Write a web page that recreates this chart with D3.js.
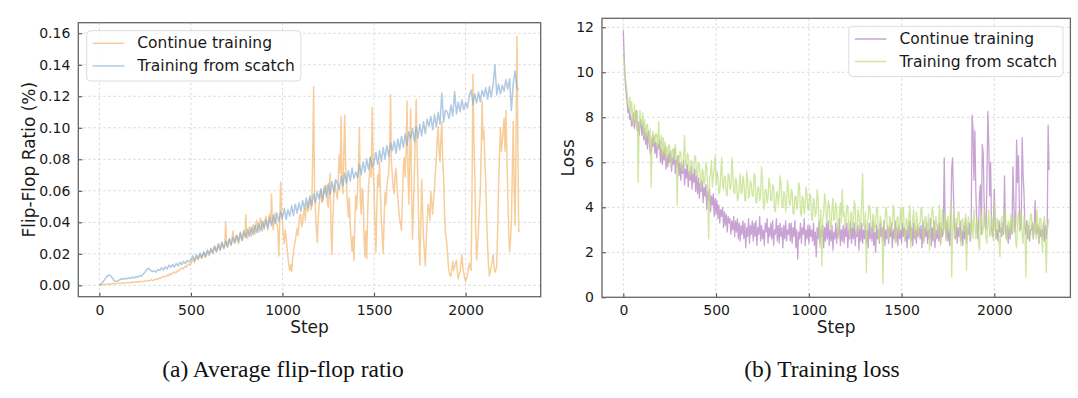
<!DOCTYPE html>
<html><head><meta charset="utf-8">
<script src="https://cdn.jsdelivr.net/npm/d3@7"></script>
<style>body{margin:0;background:#fff}svg text{font-family:"DejaVu Sans",sans-serif}</style>
</head><body><svg id="c" width="1078" height="398"></svg>
<script>
const fineSteps = d3.range(0, 2300, 5);
const coarseSteps = d3.range(0, 2300, 10);
const seriesNames = ["Continue training", "Training from scatch"];
const stepTicks = [0, 500, 1000, 1500, 2000];
const flipTicks = [0, 0.02, 0.04, 0.06, 0.08, 0.10, 0.12, 0.14, 0.16];
const lossTicks = [0, 2, 4, 6, 8, 10, 12];
const captions = ["(a) Average flip-flop ratio", "(b) Training loss"];

const flipContinue = [
0.0,0.0002,0.0003,0.0004,0.0005,0.0005,0.0006,0.0007,0.0008,0.0007,0.0007,0.0009,0.001,0.0009,0.0009,0.0011,0.0011,0.001,0.001,0.0012,
0.0012,0.0013,0.0014,0.0012,0.0012,0.0015,0.0016,0.0014,0.0015,0.0017,0.0017,0.0018,0.0019,0.0016,0.0016,0.0019,0.002,0.0018,0.0021,0.0022,
0.0022,0.0021,0.0019,0.0023,0.0024,0.0025,0.0026,0.0024,0.0023,0.0027,0.0028,0.0029,0.003,0.0027,0.0027,0.0031,0.0033,0.0036,0.0031,0.003,
0.0036,0.0038,0.0042,0.0037,0.0039,0.0045,0.0048,0.0044,0.0052,0.0057,0.0058,0.0053,0.0055,0.0061,0.0064,0.0059,0.007,0.0074,0.0068,0.0072,
0.0078,0.0083,0.0085,0.0079,0.0081,0.009,0.0095,0.0092,0.0102,0.0108,0.011,0.0104,0.0106,0.0118,0.0121,0.0115,0.0128,0.0132,0.0134,0.0128,
0.0142,0.0155,0.0168,0.0152,0.0145,0.0172,0.0182,0.0165,0.0162,0.0185,0.0196,0.0175,0.0172,0.0198,0.0208,0.0184,0.0178,0.0202,0.0215,0.0196,
0.0188,0.0215,0.0232,0.0208,0.0205,0.0238,0.0248,0.0222,0.0215,0.0245,0.0262,0.0232,0.0222,0.0258,0.0275,0.0246,0.0238,0.0268,0.0404,0.0252,
0.0242,0.0278,0.0292,0.0262,0.0258,0.0298,0.0345,0.0282,0.0272,0.0305,0.0318,0.0285,0.0266,0.0312,0.0338,0.0295,0.0285,0.0328,0.0352,0.0308,
0.045,0.0322,0.0298,0.0345,0.0372,0.033,0.0312,0.0362,0.0385,0.0342,0.0325,0.0392,0.0412,0.0355,0.0338,0.0395,0.0428,0.0372,0.0345,0.0402,
0.0372,0.0415,0.0438,0.0382,0.0352,0.0432,0.0452,0.0398,0.058,0.0412,0.0351,0.0428,0.0462,0.0405,0.0388,0.0348,0.0187,0.0402,0.0656,0.0452,
0.0402,0.0315,0.0268,0.0352,0.0305,0.0238,0.0176,0.0125,0.0095,0.0132,0.0088,0.0165,0.0215,0.0252,0.0284,0.0325,0.0362,0.0318,0.0405,0.0445,
0.0452,0.0372,0.0398,0.0465,0.0486,0.0412,0.052,0.0488,0.0468,0.0535,0.0552,0.0478,0.0505,0.0825,0.126,0.0612,0.0482,0.0365,0.027,0.0418,
0.0512,0.0562,0.0604,0.0525,0.0548,0.0612,0.0586,0.0635,0.0632,0.0528,0.0495,0.0622,0.071,0.0352,0.0198,0.0425,0.0562,0.0648,0.0615,0.0575,
0.0548,0.0692,0.083,0.0712,0.107,0.0655,0.0582,0.0845,0.108,0.0752,0.0634,0.0512,0.0434,0.0558,0.0382,0.0285,0.0215,0.0312,0.016,0.0395,
0.0568,0.0482,0.0612,0.0758,0.100,0.0525,0.0452,0.0615,0.0585,0.0312,0.0182,0.0345,0.017,0.0452,0.0625,0.0705,0.0812,0.0688,0.113,0.0752,
0.0605,0.0385,0.021,0.0485,0.0702,0.0625,0.0784,0.0582,0.0415,0.0305,0.0202,0.0412,0.0588,0.0515,0.0622,0.0682,0.0705,0.0852,0.121,0.0782,
0.0695,0.0612,0.0582,0.0705,0.0744,0.0625,0.0551,0.0482,0.042,0.0385,0.0348,0.0562,0.0752,0.0812,0.0688,0.0852,0.117,0.0725,0.0515,0.0852,
0.112,0.0582,0.0292,0.0485,0.0705,0.0912,0.118,0.0852,0.0628,0.0312,0.0128,0.0385,0.067,0.0482,0.0302,0.0212,0.0125,0.0285,0.0412,0.0515,
0.0486,0.0412,0.0595,0.0525,0.0452,0.0548,0.0612,0.0715,0.0812,0.0925,0.1007,0.0852,0.0785,0.0925,0.104,0.0785,0.0682,0.0452,0.033,0.0285,
0.0225,0.0135,0.0084,0.0062,0.0057,0.0105,0.0152,0.0095,0.0118,0.0142,0.016,0.0085,0.0042,0.0072,0.0085,0.0142,0.0196,0.0112,0.0078,0.0045,
0.0025,0.0048,0.0065,0.0105,0.0142,0.0112,0.0095,0.0612,0.134,0.0925,0.0702,0.0352,0.0162,0.0245,0.0352,0.0485,0.0585,0.0852,0.117,0.0925,
0.0985,0.0785,0.066,0.0412,0.0252,0.0125,0.006,0.0085,0.0118,0.0152,0.0195,0.0125,0.0082,0.0095,0.0124,0.0352,0.0622,0.0825,0.1,0.0852,
0.0905,0.0985,0.106,0.0852,0.111,0.0852,0.0598,0.0352,0.0214,0.0285,0.04,0.0725,0.104,0.0625,0.0382,0.0852,0.158,0.0925,0.034,0.0352];

const flipScratch = [
0.0,0.001,0.0022,0.0038,0.0055,0.0065,0.0062,0.0048,0.0032,0.0024,
0.0028,0.0035,0.0042,0.0038,0.0045,0.0041,0.0048,0.0044,0.0052,0.0047,
0.0055,0.0051,0.0062,0.0058,0.0072,0.0085,0.0102,0.0108,0.0095,0.0088,
0.0092,0.0084,0.0102,0.0095,0.0112,0.0098,0.0118,0.0104,0.0128,0.0113,
0.0132,0.0117,0.0139,0.0124,0.0146,0.0131,0.0152,0.0138,0.0158,0.0148,
0.016,0.0188,0.0158,0.0195,0.0168,0.0205,0.0176,0.0214,0.0182,0.0225,
0.0198,0.0236,0.0205,0.0248,0.0212,0.0262,0.0225,0.0272,0.0232,0.0281,
0.0245,0.0298,0.0255,0.0306,0.0268,0.0318,0.0276,0.0332,0.0285,0.0342,
0.0302,0.0355,0.0312,0.0368,0.0322,0.0382,0.0335,0.0392,0.0346,0.0408,
0.0358,0.0418,0.0365,0.0432,0.0378,0.0445,0.0392,0.0458,0.0405,0.0468,
0.0425,0.0488,0.0418,0.0482,0.0438,0.0505,0.0442,0.0515,0.0458,0.0522,
0.047,0.0538,0.0485,0.0555,0.0492,0.0568,0.0508,0.0582,0.0522,0.0595,
0.055,0.0615,0.0538,0.0628,0.0562,0.0645,0.0578,0.0658,0.0592,0.0672,
0.0646,0.0608,0.0695,0.0632,0.0712,0.0645,0.0728,0.0662,0.0745,0.0678,
0.072,0.0685,0.0768,0.0702,0.0785,0.0718,0.0802,0.0735,0.0815,0.0752,
0.078,0.0845,0.0768,0.0858,0.0785,0.0875,0.0802,0.0888,0.0818,0.0902,
0.0856,0.0915,0.0838,0.0928,0.0862,0.0945,0.0875,0.0962,0.0888,0.0975,
0.093,0.0995,0.0912,0.1008,0.0935,0.1022,0.0948,0.1038,0.0962,0.1055,
0.101,0.1072,0.0988,0.1085,0.1005,0.1098,0.1022,0.122,0.1038,0.1112,
0.11,0.1058,0.1145,0.1075,0.123,0.1088,0.1162,0.1102,0.1178,0.1115,
0.116,0.1125,0.1202,0.124,0.1148,0.1215,0.1158,0.1228,0.1165,0.1238,
0.12,0.1255,0.1182,0.1262,0.1195,0.1272,0.14,0.1208,0.1278,0.1215,
0.127,0.1232,0.1305,0.1245,0.1312,0.111,0.1282,0.136,0.1252,0.124];

const lossContinue = [
11.85,10.6,9.6,9.1,8.7,8.2,8.4,7.9,8.1,7.6,7.7,8.2,7.5,7.9,8.3,7.4,7.8,7.2,7.6,7.9,
7.2,7.7,7.0,7.5,6.8,7.3,6.6,7.4,6.9,6.4,6.5,7.1,6.7,7.2,6.4,6.9,6.2,6.8,6.6,7.0,
6.0,6.6,5.9,6.5,6.1,6.7,5.7,6.3,5.8,6.4,6.0,6.5,5.6,6.2,5.9,6.6,5.5,6.1,5.8,6.3,
5.4,6.0,5.2,5.9,5.5,6.1,5.0,5.7,5.3,5.9,4.9,5.6,5.2,5.8,4.8,5.5,5.1,5.7,4.7,5.4,
4.6,5.3,4.4,5.1,4.7,5.2,4.2,4.9,4.5,5.0,3.9,4.7,4.3,4.8,3.8,4.5,4.1,4.6,3.6,4.4,
3.7,4.3,3.5,4.1,3.3,3.9,3.6,4.0,3.1,3.8,3.2,3.7,2.9,3.6,3.3,3.5,2.8,3.4,3.0,3.6,
2.7,3.4,2.9,3.5,2.6,3.3,2.5,3.2,2.8,3.4,2.6,3.3,2.2,3.1,2.7,3.5,2.4,3.2,2.8,3.4,
2.5,3.3,2.7,3.4,2.3,3.1,2.8,3.6,2.5,3.2,2.6,3.0,2.3,3.3,2.9,3.5,2.4,3.1,2.7,3.3,
2.6,3.4,2.3,3.0,2.8,3.5,2.5,3.2,2.4,3.3,2.7,3.1,2.2,3.2,2.6,3.4,2.5,3.0,2.8,3.3,
2.5,3.3,2.4,3.1,2.7,3.4,2.2,3.0,1.7,2.9,2.6,3.3,2.4,3.1,2.8,3.5,2.3,3.0,2.6,3.2,
2.4,3.2,2.7,3.0,2.5,3.3,2.3,2.9,1.8,3.1,2.6,3.4,2.4,3.0,2.7,3.2,2.2,3.1,2.5,3.3,
2.6,3.4,2.3,3.0,2.5,3.2,2.1,2.9,2.6,3.3,2.4,3.1,2.7,3.5,2.3,3.0,2.5,3.2,2.4,3.1,
2.7,3.3,2.2,3.0,2.6,3.4,2.4,3.1,2.6,3.3,2.3,3.0,2.7,3.2,2.1,3.1,2.5,3.3,2.4,3.0,
2.6,3.2,2.4,3.0,2.2,3.3,2.6,3.1,2.5,3.4,2.3,2.9,2.0,3.2,2.6,3.0,2.4,3.3,2.7,3.1,
2.5,3.4,2.3,3.0,2.6,3.2,2.4,3.1,2.7,3.3,2.2,3.0,2.6,3.4,2.5,3.1,2.3,3.2,2.6,3.0,
2.4,3.3,2.7,3.1,2.5,3.0,2.2,3.2,2.6,3.4,2.5,3.1,2.3,3.3,2.6,3.0,2.4,3.2,2.7,3.1,
2.6,3.2,2.2,3.4,2.5,3.1,2.7,3.3,2.4,3.0,2.6,3.5,2.3,3.1,2.5,3.4,2.2,3.0,2.6,3.2,
2.5,3.3,2.4,3.1,2.7,3.0,6.2,3.2,2.6,3.4,2.5,3.0,2.3,3.2,5.7,6.2,4.4,3.1,2.6,3.3,
2.4,3.1,2.7,3.4,2.5,3.0,2.3,3.2,2.6,3.5,2.4,3.1,2.8,3.3,2.5,3.0,8.1,7.5,5.2,7.4,
4.8,3.3,2.6,3.1,4.6,5.0,2.8,6.8,6.4,4.2,3.2,3.0,5.1,8.26,6.9,4.5,6.0,3.1,2.7,3.3,
4.8,3.2,2.6,3.0,2.5,3.4,2.9,3.1,2.7,3.3,2.8,5.4,3.0,2.6,3.2,2.4,3.1,2.6,3.4,2.8,
5.8,4.2,2.9,3.3,6.98,5.1,6.3,4.0,3.0,3.2,7.1,5.5,4.6,3.1,2.8,3.4,2.6,3.2,2.5,3.0,
3.0,3.3,2.6,3.1,4.3,2.8,2.9,3.2,2.4,3.1,2.7,3.0,2.6,3.3,2.5,3.2,2.6,3.1,7.65,5.66];

const lossScratch = [
10.8,10.3,9.8,9.5,9.2,8.6,8.4,8.9,8.1,8.7,8.1,7.6,8.6,8.0,7.8,8.3,5.1,7.4,8.3,7.7,
7.6,8.2,7.2,7.9,7.0,7.6,7.7,7.1,6.8,7.5,4.9,7.0,7.4,6.8,6.9,7.3,7.2,6.6,7.8,7.0,
6.6,7.2,6.3,7.1,6.4,6.9,6.0,6.7,6.2,6.8,6.7,5.8,5.9,6.6,6.5,6.1,6.8,6.3,4.1,6.2,
6.0,6.5,6.4,5.7,5.6,6.3,7.2,5.9,5.8,6.4,6.3,5.6,5.4,6.1,6.0,5.5,5.7,6.3,6.2,5.5,
5.3,6.0,5.9,5.2,4.8,5.7,5.6,5.0,5.2,6.0,5.8,4.9,2.6,5.3,5.5,6.1,4.9,5.4,5.7,6.3,
5.0,5.6,5.3,4.6,4.7,5.5,6.2,5.1,4.8,5.4,5.3,4.6,4.5,5.5,5.4,4.8,4.9,6.2,5.6,4.7,
4.6,5.3,5.2,4.3,4.4,5.1,5.5,4.6,4.7,5.4,5.1,4.3,4.3,5.6,5.3,4.4,4.6,5.2,5.0,4.5,
4.5,5.5,5.4,4.2,4.2,4.9,4.9,4.3,4.6,5.8,5.2,4.1,3.9,4.8,4.8,4.2,4.4,5.3,5.0,4.3,
4.3,5.0,4.9,3.9,3.8,4.6,4.7,4.1,4.5,5.4,5.1,4.0,4.0,4.7,4.6,3.8,4.2,5.2,4.8,4.1,
4.1,4.8,4.7,3.7,3.7,4.5,4.5,3.9,4.2,5.1,4.9,3.8,3.6,4.5,4.4,3.7,4.0,4.9,4.6,3.9,
3.9,4.6,4.5,3.5,3.4,4.4,4.2,3.6,3.8,4.8,4.4,3.4,2.2,3.9,1.4,3.5,3.7,4.6,4.3,3.3,
3.6,4.3,4.1,3.2,3.0,4.0,4.4,3.4,3.5,4.2,3.9,3.0,2.6,3.8,4.2,3.3,4.8,3.6,3.8,3.1,
3.4,4.1,4.0,3.0,2.7,3.7,3.8,3.1,3.2,4.3,4.1,2.8,2.9,3.9,3.7,3.0,3.3,4.2,5.5,3.2,
3.1,3.8,1.1,3.3,3.5,4.1,4.0,2.9,2.8,3.7,3.6,3.0,3.2,4.0,3.9,2.7,2.5,3.6,3.4,2.9,
0.6,3.2,3.3,4.0,3.8,2.6,2.6,3.6,3.5,2.9,3.1,4.1,3.9,2.5,2.4,3.5,3.6,2.8,3.2,4.0,
3.0,3.9,4.0,2.7,2.5,3.5,3.4,2.8,3.7,4.1,2.2,3.0,3.5,3.9,3.1,2.6,3.8,3.4,2.7,3.3,
3.3,4.0,3.9,2.8,2.4,3.5,3.6,2.9,3.0,3.7,2.1,2.9,3.4,4.0,3.8,2.7,2.6,3.6,3.2,2.8,
3.5,4.1,2.3,3.2,3.9,2.8,3.1,3.7,2.5,3.4,3.6,2.9,3.3,4.2,0.9,3.0,3.7,2.6,2.8,3.5,
3.2,3.8,3.8,2.6,2.3,3.4,3.5,2.9,3.0,3.7,1.2,3.1,3.6,2.7,2.7,3.5,3.4,2.6,3.9,3.2,
2.6,3.5,3.3,2.4,2.1,3.4,3.7,2.8,3.0,3.9,3.5,2.6,2.4,3.3,3.9,2.7,2.8,3.6,3.2,2.5,
4.3,3.0,2.6,3.5,3.4,2.5,1.8,3.2,3.6,2.8,3.1,3.9,3.8,2.6,2.5,3.4,3.3,2.7,3.7,3.1,
2.9,3.6,3.5,2.5,2.2,3.4,3.8,2.9,3.2,3.9,2.7,2.4,3.6,3.0,0.9,3.1,3.4,2.6,3.0,3.7,
3.7,2.8,2.6,3.4,3.3,2.6,3.9,3.1,2.4,3.5,3.5,2.7,2.0,3.3,3.6,2.8,1.1,3.0,3.2,3.5];

const svg = d3.select("#c");

function panel(cfg) {
  const x = d3.scaleLinear().domain([-115, 2410]).range([cfg.left, cfg.right]);
  const y = d3.scaleLinear().domain(cfg.yDomain).range([cfg.bottom, cfg.top]);
  const g = svg.append("g");

  g.append("g").selectAll("line").data(stepTicks).join("line")
    .attr("x1", d => x(d)).attr("x2", d => x(d))
    .attr("y1", cfg.top).attr("y2", cfg.bottom)
    .attr("stroke", "#d0d0d0").attr("stroke-width", 0.8).attr("stroke-dasharray", "2.5,2.5");
  g.append("g").selectAll("line").data(cfg.yTicks).join("line")
    .attr("x1", cfg.left).attr("x2", cfg.right)
    .attr("y1", d => y(d)).attr("y2", d => y(d))
    .attr("stroke", "#d0d0d0").attr("stroke-width", 0.8).attr("stroke-dasharray", "2.5,2.5");

  cfg.series.forEach((s, k) => {
    const st = cfg.steps[k];
    const line = d3.line().x((d, i) => x(st[i])).y(d => y(d));
    g.append("path").datum(s).attr("d", line)
      .attr("fill", "none").attr("stroke", cfg.colors[k])
      .attr("stroke-opacity", cfg.opac[k]).attr("stroke-width", cfg.lw)
      .attr("stroke-linejoin", "round");
  });

  const xa = d3.axisBottom(x).tickValues(stepTicks).tickSize(-4).tickPadding(8).tickFormat(d3.format("d"));
  const gx = g.append("g").attr("transform", `translate(0,${cfg.bottom})`).call(xa);
  const ya = d3.axisLeft(y).tickValues(cfg.yTicks).tickSize(-4).tickPadding(8).tickFormat(cfg.fmt);
  const gy = g.append("g").attr("transform", `translate(${cfg.left},0)`).call(ya);
  [gx, gy].forEach(a => {
    a.select(".domain").remove();
    a.selectAll("line").attr("stroke", "#333").attr("stroke-width", 0.9);
    a.selectAll("text").attr("font-family", "DejaVu Sans").attr("font-size", 14).attr("fill", "#1a1a1a");
  });

  g.append("rect").attr("x", cfg.left).attr("y", cfg.top)
    .attr("width", cfg.right - cfg.left).attr("height", cfg.bottom - cfg.top)
    .attr("fill", "none").attr("stroke", "#666").attr("stroke-width", 1.3);

  g.append("text").attr("x", (cfg.left + cfg.right) / 2).attr("y", cfg.bottom + 36)
    .attr("text-anchor", "middle").attr("font-size", 17).attr("fill", "#1a1a1a").text("Step");
  g.append("text").attr("transform", `translate(${cfg.ylabX},${(cfg.top + cfg.bottom) / 2}) rotate(-90)`)
    .attr("text-anchor", "middle").attr("dominant-baseline", "central")
    .attr("font-size", 17).attr("fill", "#1a1a1a").text(cfg.ylabel);

  const lg = g.append("g");
  const box = lg.append("rect").attr("rx", 4).attr("ry", 4)
    .attr("fill", "#fff").attr("fill-opacity", 0.85).attr("stroke", "#dcdcdc").attr("stroke-width", 1);
  const texts = [];
  seriesNames.forEach((n, k) => {
    lg.append("line").attr("x1", 6).attr("x2", 37.6)
      .attr("y1", 12.6 + k * 22.7).attr("y2", 12.6 + k * 22.7)
      .attr("stroke", cfg.colors[k]).attr("stroke-opacity", cfg.opac[k]).attr("stroke-width", 1.5);
    texts.push(lg.append("text").attr("x", 50.6).attr("y", 12.6 + k * 22.7)
      .attr("dominant-baseline", "central").attr("font-size", 15.5).attr("fill", "#1a1a1a").text(n));
  });
  const tw = d3.max(texts, t => t.node().getComputedTextLength());
  const bw = 50.6 + tw + 6;
  box.attr("x", 0).attr("y", 0).attr("width", bw).attr("height", 50.3);
  const lx = cfg.legendLeft ? cfg.left + 8.4 : cfg.right - 7.4 - bw;
  lg.attr("transform", `translate(${lx},${cfg.top + 8})`);

  svg.append("text").attr("x", cfg.capX).attr("y", 377).attr("text-anchor", "middle")
    .style("font-family", "'Liberation Serif','Times New Roman',serif")
    .attr("font-size", 23.5).attr("fill", "#111").text(cfg.caption);
}

panel({
  left: 78.3, right: 540.7, top: 22.7, bottom: 296.7,
  yDomain: [-0.0072, 0.1667], yTicks: flipTicks, fmt: d3.format(".2f"),
  steps: [fineSteps, coarseSteps], series: [flipContinue, flipScratch], lw: 1.5,
  colors: ["#f3b466", "#7fa9d1"], opac: [0.65, 0.62],
  ylabel: "Flip-Flop Ratio (%)", ylabX: 29, legendLeft: true,
  caption: captions[0], capX: 283
});
panel({
  left: 602, right: 1070.4, top: 18.3, bottom: 297.3,
  yDomain: [0, 12.4], yTicks: lossTicks, fmt: d3.format("d"),
  steps: [fineSteps, fineSteps], series: [lossContinue, lossScratch], lw: 1.3,
  colors: ["#b27cc2", "#bfdf80"], opac: [0.7, 0.75],
  ylabel: "Loss", ylabX: 567.5, legendLeft: false,
  caption: captions[1], capX: 822
});
</script></body></html>
